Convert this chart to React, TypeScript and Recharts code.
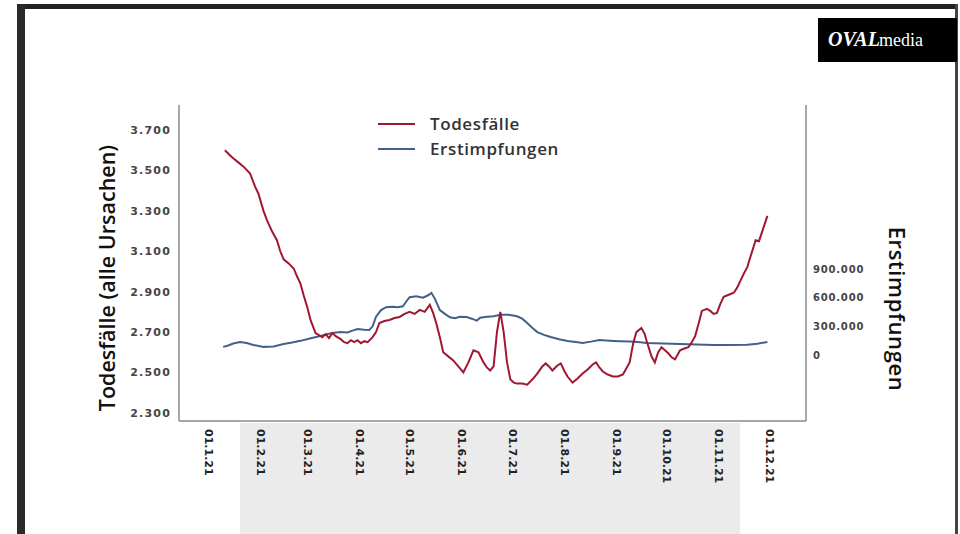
import React from "react";
import { LineChart, Line, XAxis, YAxis } from "recharts";

// x positions are days since 1 Jan 2021
const monthTicks = [0, 31, 59, 90, 120, 151, 181, 212, 243, 273, 304, 334];
const monthLabels = [
  "01.1.21", "01.2.21", "01.3.21", "01.4.21", "01.5.21", "01.6.21",
  "01.7.21", "01.8.21", "01.9.21", "01.10.21", "01.11.21", "01.12.21"
];

const leftTicks = [2300, 2500, 2700, 2900, 3100, 3300, 3500, 3700];
const rightTicks = [0, 300000, 600000, 900000];

// Todesfälle (alle Ursachen)
const deathDays = [
  10, 13, 15, 18, 21, 25, 28, 30, 33, 35, 38, 41, 43, 45, 48, 51, 53, 55, 57, 59,
  61, 64, 66, 68, 70, 72, 74, 76, 79, 81, 83, 85, 87, 89, 91, 93, 95, 98, 100, 102,
  105, 108, 111, 114, 117, 120, 123, 126, 129, 132, 134, 136, 138, 140, 143, 146, 149, 152, 155, 158,
  161, 164, 166, 168, 170, 172, 174, 176, 178, 180, 182, 184, 187, 190, 193, 196, 199, 201, 203, 205,
  208, 210, 212, 214, 217, 220, 223, 226, 229, 231, 233, 235, 238, 241, 244, 247, 249, 251, 253, 255,
  258, 260, 261, 264, 266, 268, 270, 272, 274, 276, 278, 281, 284, 286, 288, 290, 292, 294, 297, 299,
  301, 303, 305, 307, 310, 313, 315, 317, 319, 321, 323, 326, 328, 330, 333
];
const deathValues = [
  3600, 3575, 3560, 3540, 3520, 3485, 3420, 3385, 3300, 3255, 3200, 3155, 3100, 3060, 3040, 3015, 2975, 2940, 2880, 2825,
  2760, 2695, 2685, 2675, 2690, 2670, 2695, 2680, 2665, 2650, 2645, 2660, 2650, 2660, 2645, 2655, 2650, 2675, 2700, 2745,
  2755, 2760, 2770, 2775, 2790, 2800, 2790, 2810, 2800, 2835, 2795, 2740, 2675, 2600, 2580, 2560, 2530, 2500, 2550, 2610,
  2600, 2550, 2525, 2510, 2530, 2700, 2800, 2700, 2550, 2465, 2450, 2445, 2445, 2440, 2465, 2495, 2530, 2545, 2530, 2510,
  2535, 2545, 2510, 2480, 2450, 2470, 2495, 2515, 2540, 2550, 2525, 2505, 2490, 2480, 2480, 2490, 2520, 2550, 2640, 2700,
  2720, 2690, 2660, 2580, 2550, 2600, 2625, 2610, 2595, 2575, 2565, 2610, 2620, 2625, 2650, 2680, 2740, 2805, 2815, 2805,
  2790, 2795, 2840, 2875, 2885, 2895, 2920, 2955, 2990, 3020, 3075, 3155, 3150, 3200, 3275
];

// Erstimpfungen
const vaccDays = [
  9, 12, 15, 19, 23, 27, 33, 39, 45, 50, 55, 60, 65, 70, 74, 79, 83, 86, 89, 93,
  96, 98, 100, 103, 106, 110, 113, 116, 118, 120, 124, 128, 131, 133, 135, 138, 141, 144, 147, 150,
  154, 157, 160, 162, 166, 170, 174, 179, 184, 187, 190, 193, 196, 200, 204, 209, 214, 219, 223, 228,
  233, 239, 245, 251, 256, 261, 271, 281, 291, 301, 311, 321, 327, 333
];
const vaccValues = [
  85000, 100000, 120000, 135000, 125000, 105000, 85000, 90000, 115000, 130000, 148000, 170000, 190000, 215000, 230000, 240000, 235000, 255000, 272000, 265000,
  262000, 300000, 400000, 470000, 500000, 505000, 500000, 510000, 560000, 605000, 615000, 600000, 625000, 650000, 590000, 470000, 430000, 395000, 385000, 400000,
  398000, 380000, 360000, 390000, 400000, 405000, 420000, 420000, 405000, 380000, 335000, 285000, 240000, 210000, 188000, 165000, 147000, 135000, 126000, 140000,
  157000, 150000, 145000, 140000, 135000, 126000, 120000, 115000, 110000, 105000, 104000, 108000, 118000, 136000
];

const deathData = deathDays.map((d, i) => ({ day: d, v: deathValues[i] }));
const vaccData = vaccDays.map((d, i) => ({ day: d, v: vaccValues[i] }));

const RED = "#a01830";
const BLUE = "#41608a";

const fmt = (n: number) => String(n).replace(/\B(?=(\d{3})+(?!\d))/g, ".");

const XTick = (props: any) => {
  const { x, y, payload } = props;
  const idx = monthTicks.indexOf(payload.value);
  return (
    <text
      x={x}
      y={y}
      transform={`rotate(90 ${x} ${y})`}
      textAnchor="start"
      dominantBaseline="central"
      fontFamily="DejaVu Sans"
      fontSize={11}
      fontWeight={700}
      fill="#222"
    >
      {monthLabels[idx]}
    </text>
  );
};

const App: React.FC = () => {
  return (
    <div style={{ position: "absolute", left: 0, top: 0, width: 960, height: 534, background: "#fff", overflow: "hidden" }}>
      {/* photo frame */}
      <div style={{ position: "absolute", left: 17, top: 4, width: 941, height: 5, background: "#222" }} />
      <div style={{ position: "absolute", left: 17, top: 4, width: 8, height: 530, background: "#2a2a2a" }} />
      <div style={{ position: "absolute", left: 955, top: 4, width: 3, height: 530, background: "#444" }} />
      <div style={{ position: "absolute", left: 240, top: 423, width: 500, height: 111, background: "#ebebeb" }} />

      {/* logo */}
      <div style={{ position: "absolute", left: 818, top: 18, width: 139, height: 44, background: "#000", color: "#fff", fontFamily: "Liberation Serif", whiteSpace: "nowrap" }}>
        <span style={{ position: "absolute", left: 10, top: 10, fontSize: 20, fontWeight: 700, fontStyle: "italic" }}>OVAL</span>
        <span style={{ position: "absolute", left: 61, top: 12, fontSize: 18 }}>media</span>
      </div>

      <LineChart
        width={960}
        height={534}
        margin={{ top: 105, right: 94, bottom: 53, left: 119 }}
        style={{ position: "absolute", left: 0, top: 0 }}
      >
        <XAxis
          dataKey="day"
          type="number"
          domain={[-17.3, 356]}
          allowDataOverflow
          ticks={monthTicks}
          interval={0}
          height={60}
          tickLine={false}
          axisLine={{ stroke: "#8a8a8a", strokeWidth: 1.5 }}
          tick={<XTick />}
        />
        <YAxis
          yAxisId="left"
          orientation="left"
          type="number"
          domain={[2260, 3824]}
          allowDataOverflow
          ticks={leftTicks}
          interval={0}
          width={60}
          tickLine={false}
          tickSize={6}
          tickMargin={2}
          tickFormatter={fmt}
          axisLine={{ stroke: "#8a8a8a", strokeWidth: 1.5 }}
          tick={{ fill: "#444", fontSize: 11, fontFamily: "DejaVu Sans", fontWeight: 700, letterSpacing: 1.2 }}
        />
        <YAxis
          yAxisId="right"
          orientation="right"
          type="number"
          domain={[-690700, 2616000]}
          allowDataOverflow
          ticks={rightTicks}
          interval={0}
          width={60}
          tickLine={false}
          tickSize={5}
          tickMargin={2}
          tickFormatter={fmt}
          axisLine={{ stroke: "#8a8a8a", strokeWidth: 1.5 }}
          tick={{ fill: "#444", fontSize: 10, fontFamily: "DejaVu Sans", fontWeight: 700, letterSpacing: 0.8, textAnchor: "start" }}
        />
        <Line
          yAxisId="right"
          data={vaccData}
          dataKey="v"
          type="linear"
          stroke={BLUE}
          strokeWidth={2}
          dot={false}
          isAnimationActive={false}
        />
        <Line
          yAxisId="left"
          data={deathData}
          dataKey="v"
          type="linear"
          stroke={RED}
          strokeWidth={2}
          dot={false}
          isAnimationActive={false}
        />
      </LineChart>

      {/* legend */}
      <div style={{ position: "absolute", left: 378, top: 111, fontFamily: "Open Sans", fontSize: 17, fontWeight: 600, color: "#333", letterSpacing: 0.6, lineHeight: "25px" }}>
        <div style={{ display: "flex", alignItems: "center" }}>
          <span style={{ display: "inline-block", width: 37, height: 2, background: RED, marginRight: 15 }} />
          Todesfälle
        </div>
        <div style={{ display: "flex", alignItems: "center" }}>
          <span style={{ display: "inline-block", width: 37, height: 2, background: BLUE, marginRight: 15 }} />
          Erstimpfungen
        </div>
      </div>

      {/* axis titles */}
      <div style={{ position: "absolute", left: 106, top: 278, transform: "translate(-50%, -50%) rotate(-90deg)", fontFamily: "Open Sans", fontSize: 21.5, fontWeight: 600, color: "#111", whiteSpace: "nowrap" }}>
        Todesfälle (alle Ursachen)
      </div>
      <div style={{ position: "absolute", left: 898, top: 309, transform: "translate(-50%, -50%) rotate(90deg)", fontFamily: "Open Sans", fontSize: 22, fontWeight: 600, color: "#111", letterSpacing: 0.6, whiteSpace: "nowrap" }}>
        Erstimpfungen
      </div>
    </div>
  );
};

export default App;
